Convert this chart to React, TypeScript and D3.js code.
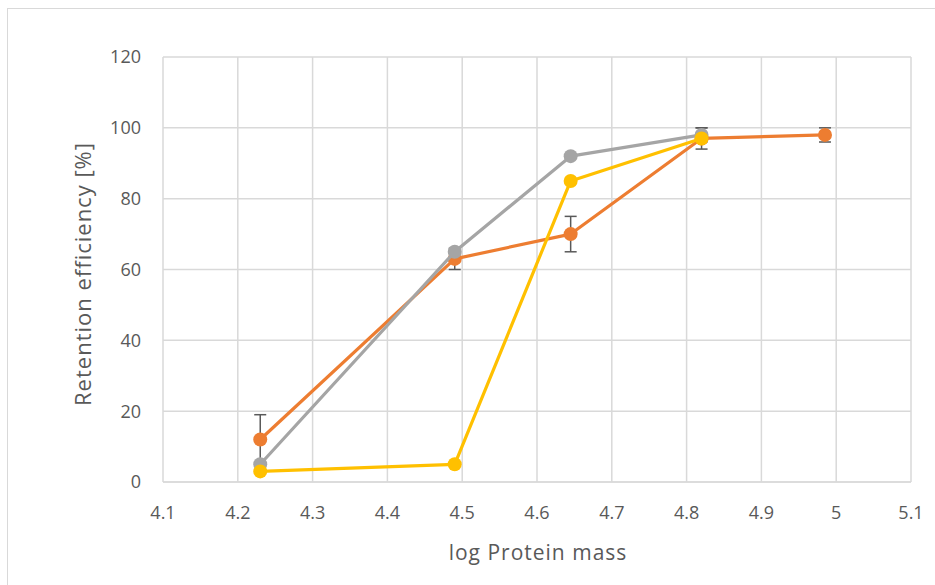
import React from "react";
import * as d3 from "d3";

const xValues = [4.23, 4.49, 4.645, 4.82, 4.985];
const orangeValues = [12, 63, 70, 97, 98];
const orangeErrors = [7, 3, 5, 3, 2];
const grayValues = [5, 65, 92, 98];
const grayErrors = [0, 0, 0, 2];
const yellowValues = [3, 5, 85, 97];
const xTicks = [4.1, 4.2, 4.3, 4.4, 4.5, 4.6, 4.7, 4.8, 4.9, 5, 5.1];
const yTicks = [0, 20, 40, 60, 80, 100, 120];

const W = 935, H = 585;
const x = d3.scaleLinear().domain([4.1, 5.1]).range([163, 911]);
const y = d3.scaleLinear().domain([0, 120]).range([482, 57]);

const font = "'Open Sans', 'Liberation Sans', sans-serif";

type S = { name: string; vals: number[]; errs?: number[]; color: string };
const series: S[] = [
  { name: "orange", vals: orangeValues, errs: orangeErrors, color: "#ED7D31" },
  { name: "gray", vals: grayValues, errs: grayErrors, color: "#A5A5A5" },
  { name: "yellow", vals: yellowValues, color: "#FFC000" },
];

export default function App() {
  const line = d3
    .line<[number, number]>()
    .x((d) => x(d[0]))
    .y((d) => y(d[1]));
  return (
    <div style={{ position: "fixed", left: 0, top: 0 }}>
      <svg width={W} height={H} style={{ display: "block", background: "#fff" }}>
        <rect x={7.5} y={8.5} width={W} height={H} fill="#fff" stroke="#d9d9d9" />
        {yTicks.map((t) => (
          <line key={"gy" + t} x1={x(4.1)} x2={x(5.1)} y1={y(t)} y2={y(t)}
            stroke={t === 0 ? "#d0d0d0" : "#d9d9d9"} strokeWidth={1.5} />
        ))}
        {xTicks.map((t) => (
          <line key={"gx" + t} x1={x(t)} x2={x(t)} y1={y(0)} y2={y(120)} stroke="#d9d9d9" strokeWidth={1.5} />
        ))}
        {yTicks.map((t) => (
          <text key={"ty" + t} x={141} y={y(t)} dy="0.36em" textAnchor="end"
            fontFamily={font} fontSize={18} fill="#595959">{t}</text>
        ))}
        {xTicks.map((t) => (
          <text key={"tx" + t} x={x(t)} y={519} textAnchor="middle"
            fontFamily={font} fontSize={18} fill="#595959">{t}</text>
        ))}
        <text x={538} y={560} textAnchor="middle" fontFamily={font} fontSize={21} letterSpacing={1} fill="#595959">log Protein mass</text>
        <text transform={`translate(91,274) rotate(-90)`} textAnchor="middle"
          fontFamily={font} fontSize={22} letterSpacing={1} fill="#595959">Retention efficiency [%]</text>
        {series.map((s) =>
          s.errs ? s.errs.map((e, i) =>
            e > 0 ? (
              <g key={s.name + "e" + i} stroke="#595959" strokeWidth={1.5}>
                <line x1={x(xValues[i])} x2={x(xValues[i])} y1={y(s.vals[i] - e)} y2={y(s.vals[i] + e)} />
                <line x1={x(xValues[i]) - 6} x2={x(xValues[i]) + 6} y1={y(s.vals[i] + e)} y2={y(s.vals[i] + e)} />
                <line x1={x(xValues[i]) - 6} x2={x(xValues[i]) + 6} y1={y(s.vals[i] - e)} y2={y(s.vals[i] - e)} />
              </g>
            ) : null
          ) : null
        )}
        {series.map((s) => {
          const pts: [number, number][] = s.vals.map((v, i) => [xValues[i], v]);
          return (
            <g key={s.name}>
              <path d={line(pts) || ""} fill="none" stroke={s.color} strokeWidth={3.2} strokeLinejoin="round" />
              {pts.map((p, i) => (
                <circle key={i} cx={x(p[0])} cy={y(p[1])} r={7} fill={s.color} />
              ))}
            </g>
          );
        })}
      </svg>
    </div>
  );
}
